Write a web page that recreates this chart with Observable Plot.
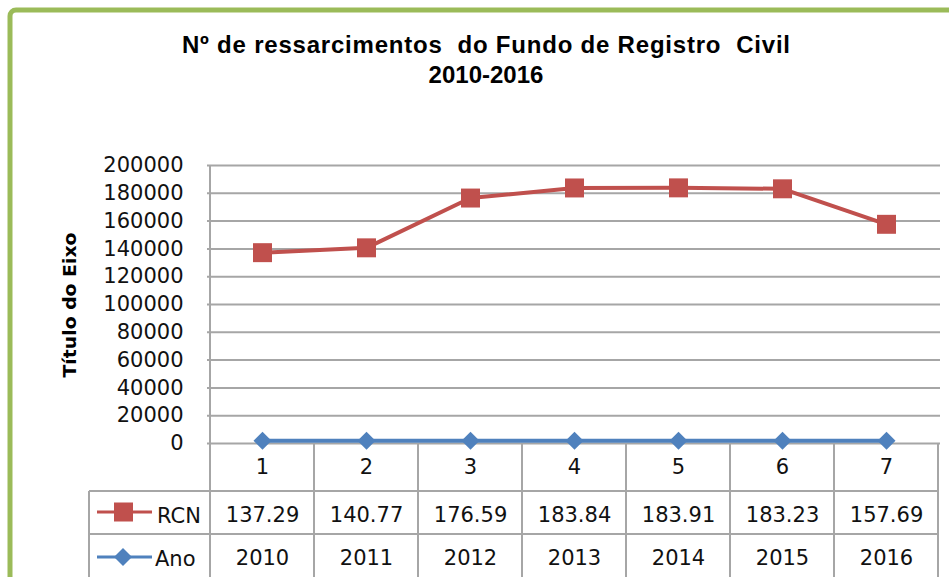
<!DOCTYPE html>
<html><head><meta charset="utf-8">
<script src="https://cdn.jsdelivr.net/npm/d3@7"></script>
<script src="https://cdn.jsdelivr.net/npm/@observablehq/plot@0.6"></script>
<style>
body{margin:0;background:#fff}
#c{position:relative;width:949px;height:577px;overflow:hidden;background:#fff}
</style>
</head><body><div id="c"></div>
<script>
const categories = [1, 2, 3, 4, 5, 6, 7];
const rcnLabels = ["137.29", "140.77", "176.59", "183.84", "183.91", "183.23", "157.69"];
const rcnValues = [137290, 140770, 176590, 183840, 183910, 183230, 157690];
const anoValues = [2010, 2011, 2012, 2013, 2014, 2015, 2016];
const yTicks = [0, 20000, 40000, 60000, 80000, 100000, 120000, 140000, 160000, 180000, 200000];
const titleLines = ["Nº de ressarcimentos  do Fundo de Registro  Civil", "2010-2016"];
const yTitle = "Título do Eixo";
const seriesNames = ["RCN", "Ano"];

const rcnData = categories.map((c, i) => ({cat: c, value: rcnValues[i], label: rcnLabels[i]}));
const anoData = categories.map((c, i) => ({cat: c, value: anoValues[i], label: String(anoValues[i])}));

const RED = "#c0504d", BLUE = "#4f81bd", GRID = "#a6a6a6";
const FONT = "DejaVu Sans";

const plot = Plot.plot({
  width: 949, height: 577,
  marginLeft: 207, marginRight: 9, marginTop: 165, marginBottom: 134,
  style: {fontFamily: FONT, fontSize: "21px", color: "#000", background: "transparent", overflow: "visible"},
  x: {type: "point", domain: categories, padding: 0.5, axis: null},
  y: {domain: [0, 200000], axis: null, label: null},
  marks: [
    Plot.gridY(yTicks, {stroke: GRID, strokeOpacity: 1, strokeWidth: 2}),
    Plot.axisY(yTicks, {tickSize: 0, tickPadding: 24, tickFormat: d => String(d), fontSize: 21, fill: "#111", label: null}),
    Plot.line(anoData, {x: "cat", y: "value", stroke: BLUE, strokeWidth: 4}),
    Plot.dot(anoData, {x: "cat", y: "value", symbol: "diamond2", r: 8.1, fill: BLUE, stroke: null}),
    Plot.line(rcnData, {x: "cat", y: "value", stroke: RED, strokeWidth: 4}),
    Plot.dot(rcnData, {x: "cat", y: "value", symbol: "square", r: 10.7, fill: RED, stroke: null}),
    Plot.text(categories, {x: d => d, text: d => String(d), frameAnchor: "bottom", lineAnchor: "middle", dy: 24, fontSize: 21, fill: "#111"}),
    Plot.text(rcnData, {x: "cat", text: "label", frameAnchor: "bottom", lineAnchor: "middle", dy: 72, fontSize: 21, fill: "#111"}),
    Plot.text(anoData, {x: "cat", text: "label", frameAnchor: "bottom", lineAnchor: "middle", dy: 115, fontSize: 21, fill: "#111"})
  ]
});

document.getElementById("c").appendChild(plot);

const svg = d3.select(plot);
const xs = plot.scale("x"), ys = plot.scale("y");
const step = xs.apply(2) - xs.apply(1);
const x0 = xs.apply(categories[0]) - step / 2;
const xN = xs.apply(categories[categories.length - 1]) + step / 2;
const yBase = ys.apply(0), yTop = ys.apply(200000);
const row1 = yBase + 48, row2 = yBase + 91, bottom = 600;
const tableLeft = 89;

const g = svg.append("g").attr("stroke", GRID).attr("stroke-width", 2).attr("fill", "none");
g.append("line").attr("x1", x0).attr("x2", x0).attr("y1", yTop).attr("y2", bottom);
categories.forEach(c => {
  const xe = xs.apply(c) + step / 2;
  g.append("line").attr("x1", xe).attr("x2", xe).attr("y1", yBase).attr("y2", bottom);
});
[row1, row2].forEach(y => g.append("line").attr("x1", tableLeft).attr("x2", xN).attr("y1", y).attr("y2", y));
g.append("line").attr("x1", tableLeft).attr("x2", tableLeft).attr("y1", row1).attr("y2", bottom);

const rowsY = [yBase + 72, yBase + 115];
const lg = svg.append("g").attr("text-anchor", "start");
lg.append("line").attr("x1", 97).attr("x2", 152).attr("y1", rowsY[0] - 3).attr("y2", rowsY[0] - 3).attr("stroke", RED).attr("stroke-width", 3);
lg.append("rect").attr("x", 114).attr("y", rowsY[0] - 12.5).attr("width", 19).attr("height", 19).attr("fill", RED);
lg.append("text").attr("x", 157).attr("y", rowsY[0]).attr("dy", "0.36em").attr("text-anchor", "start").attr("font-family", FONT).attr("font-size", 21).attr("fill", "#111").text(seriesNames[0]);
lg.append("line").attr("x1", 97).attr("x2", 152).attr("y1", rowsY[1] - 1).attr("y2", rowsY[1] - 1).attr("stroke", BLUE).attr("stroke-width", 3);
lg.append("path").attr("d", d3.symbol(d3.symbolDiamond2, 206)()).attr("transform", `translate(123,${rowsY[1] - 1})`).attr("fill", BLUE);
lg.append("text").attr("x", 155).attr("y", rowsY[1]).attr("dy", "0.36em").attr("text-anchor", "start").attr("font-family", FONT).attr("font-size", 21).attr("fill", "#111").text(seriesNames[1]);

svg.append("text").attr("x", 486).attr("y", 53).attr("text-anchor", "middle")
  .attr("font-family", "Liberation Sans").attr("font-weight", "bold").attr("font-size", 24)
  .attr("textLength", 608).attr("lengthAdjust", "spacing").attr("fill", "#000").text(titleLines[0]);
svg.append("text").attr("x", 486).attr("y", 83).attr("text-anchor", "middle")
  .attr("font-family", "Liberation Sans").attr("font-weight", "bold").attr("font-size", 24)
  .attr("fill", "#000").text(titleLines[1]);

svg.append("text").attr("transform", "translate(70,305) rotate(-90)").attr("text-anchor", "middle").attr("dy", "0.35em")
  .attr("font-family", FONT).attr("font-weight", "bold").attr("font-size", 18)
  .attr("textLength", 145).attr("lengthAdjust", "spacingAndGlyphs").attr("fill", "#000").text(yTitle);

svg.append("rect").attr("x", 10).attr("y", 10).attr("width", 1200).attr("height", 900).attr("rx", 6)
  .attr("fill", "none").attr("stroke", "#9bbb59").attr("stroke-width", 5);
</script>
</body></html>
